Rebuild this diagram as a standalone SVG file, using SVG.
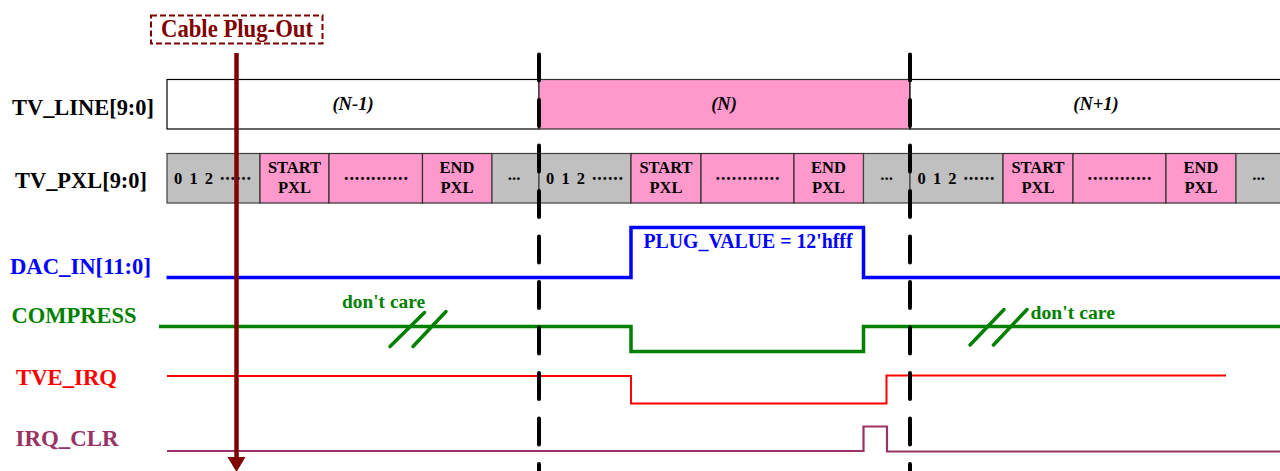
<svg xmlns="http://www.w3.org/2000/svg" width="1280" height="471" viewBox="0 0 1280 471">
<style>
  .lbl { font-family: "Liberation Serif", "Times New Roman", serif; font-weight: bold; font-size: 22.5px; }
  .cell { font-family: "Liberation Serif", "Times New Roman", serif; font-weight: bold; font-size: 16.5px; fill: #000; text-anchor: middle; }
  .dig { font-family: "Liberation Serif", "Times New Roman", serif; font-weight: bold; font-size: 16.5px; fill: #000; }
  .dots { font-family: "Liberation Serif", "Times New Roman", serif; font-weight: bold; font-size: 18px; fill: #000; }
  .ell { font-family: "Liberation Serif", "Times New Roman", serif; font-weight: bold; font-size: 17px; fill: #000; text-anchor: middle; }
  .line-txt { font-family: "Liberation Serif", "Times New Roman", serif; font-weight: bold; font-style: italic; font-size: 18.5px; fill: #000; text-anchor: middle; }
  .gray { fill: #C0C0C0; stroke: #404040; stroke-width: 1.2; }
  .pink { fill: #FF99CC; stroke: #303030; stroke-width: 1.2; }
  .wht { fill: #FFFFFF; stroke: #000; stroke-width: 1.2; }
  .sig { fill: none; stroke-linejoin: miter; }
  .mark { stroke: #000; stroke-width: 4; stroke-linecap: round; stroke-dasharray: 26 19.5; fill: none; }
</style>

<g id="tv_line">
  <text class="lbl" x="12" y="114.5" textLength="142" lengthAdjust="spacingAndGlyphs" fill="#000">TV_LINE[9:0]</text>
  <rect class="wht" x="167" y="79.5" width="372" height="49.5"/>
  <rect class="pink" x="539" y="79.5" width="371" height="49.5"/>
  <rect class="wht" x="910" y="79.5" width="372" height="49.5"/>
  <text class="line-txt" x="353" y="110">(N-1)</text>
  <text class="line-txt" x="724" y="110">(N)</text>
  <text class="line-txt" x="1096" y="110">(N+1)</text>
</g>

<g id="tv_pxl">
  <text class="lbl" x="15" y="188" textLength="132" lengthAdjust="spacingAndGlyphs" fill="#000">TV_PXL[9:0]</text>
  <!-- group 1 -->
  <rect class="gray" x="167" y="153.5" width="93" height="49.5"/>
  <rect class="pink" x="260" y="153.5" width="69" height="49.5"/>
  <rect class="pink" x="329" y="153.5" width="93.5" height="49.5"/>
  <rect class="pink" x="422.5" y="153.5" width="69.5" height="49.5"/>
  <rect class="gray" x="492" y="153.5" width="47" height="49.5"/>
  <text class="dig" x="174" y="184" textLength="39" lengthAdjust="spacing">0 1 2</text>
  <text class="dots" x="220" y="180" textLength="31" lengthAdjust="spacing">......</text>
  <text class="cell" x="294.5" y="173">START</text>
  <text class="cell" x="294.5" y="193">PXL</text>
  <text class="dots" x="344" y="180" textLength="64" lengthAdjust="spacing">............</text>
  <text class="cell" x="457" y="173">END</text>
  <text class="cell" x="457" y="193">PXL</text>
  <text class="ell" x="514" y="180">...</text>
  <!-- group 2 -->
  <rect class="gray" x="539" y="153.5" width="92" height="49.5"/>
  <rect class="pink" x="631" y="153.5" width="70" height="49.5"/>
  <rect class="pink" x="701" y="153.5" width="93" height="49.5"/>
  <rect class="pink" x="794" y="153.5" width="69.5" height="49.5"/>
  <rect class="gray" x="863.5" y="153.5" width="46.5" height="49.5"/>
  <text class="dig" x="546" y="184" textLength="39" lengthAdjust="spacing">0 1 2</text>
  <text class="dots" x="592" y="180" textLength="31" lengthAdjust="spacing">......</text>
  <text class="cell" x="666" y="173">START</text>
  <text class="cell" x="666" y="193">PXL</text>
  <text class="dots" x="715.5" y="180" textLength="64" lengthAdjust="spacing">............</text>
  <text class="cell" x="828.5" y="173">END</text>
  <text class="cell" x="828.5" y="193">PXL</text>
  <text class="ell" x="886.5" y="180">...</text>
  <!-- group 3 -->
  <rect class="gray" x="910" y="153.5" width="93" height="49.5"/>
  <rect class="pink" x="1003" y="153.5" width="70" height="49.5"/>
  <rect class="pink" x="1073" y="153.5" width="93" height="49.5"/>
  <rect class="pink" x="1166" y="153.5" width="70" height="49.5"/>
  <rect class="gray" x="1236" y="153.5" width="46" height="49.5"/>
  <text class="dig" x="917.5" y="184" textLength="39" lengthAdjust="spacing">0 1 2</text>
  <text class="dots" x="963.5" y="180" textLength="31" lengthAdjust="spacing">......</text>
  <text class="cell" x="1038" y="173">START</text>
  <text class="cell" x="1038" y="193">PXL</text>
  <text class="dots" x="1087.5" y="180" textLength="64" lengthAdjust="spacing">............</text>
  <text class="cell" x="1201" y="173">END</text>
  <text class="cell" x="1201" y="193">PXL</text>
  <text class="ell" x="1258.5" y="180">...</text>
</g>

<g id="dac_in">
  <text class="lbl" x="10" y="274" textLength="141" lengthAdjust="spacingAndGlyphs" fill="#0000FF">DAC_IN[11:0]</text>
  <polyline class="sig" stroke="#0000FF" stroke-width="3.5" points="166.5,277.5 631,277.5 631,227.5 863.5,227.5 863.5,277.5 1282,277.5"/>
  <text class="lbl" x="643.5" y="248" style="font-size:20.5px" textLength="209" lengthAdjust="spacingAndGlyphs" fill="#0000FF">PLUG_VALUE = 12'hfff</text>
</g>

<g id="compress">
  <text class="lbl" x="11.5" y="323" textLength="125" lengthAdjust="spacingAndGlyphs" fill="#008000">COMPRESS</text>
  <polyline class="sig" stroke="#008000" stroke-width="3.5" points="159,326.5 631,326.5 631,351.5 863.5,351.5 863.5,326.5 1282,326.5"/>
  <line x1="390" y1="346.5" x2="424.5" y2="312.5" stroke="#008000" stroke-width="3.5" stroke-linecap="round"/>
  <line x1="413" y1="346.5" x2="446" y2="311.5" stroke="#008000" stroke-width="3.5" stroke-linecap="round"/>
  <text class="lbl" x="342" y="308" style="font-size:18.5px" textLength="83" lengthAdjust="spacingAndGlyphs" fill="#008000">don't care</text>
  <line x1="970" y1="345" x2="1004" y2="309.5" stroke="#008000" stroke-width="3.5" stroke-linecap="round"/>
  <line x1="993.5" y1="345" x2="1027" y2="309.5" stroke="#008000" stroke-width="3.5" stroke-linecap="round"/>
  <text class="lbl" x="1030.5" y="319" style="font-size:18.5px" textLength="84.5" lengthAdjust="spacingAndGlyphs" fill="#008000">don't care</text>
</g>

<g id="tve_irq">
  <text class="lbl" x="16" y="385" textLength="101" lengthAdjust="spacingAndGlyphs" fill="#FF0000">TVE_IRQ</text>
  <polyline class="sig" stroke="#FF0000" stroke-width="2" points="167,376 631,376 631,403.5 886.5,403.5 886.5,375.5 1226,375.5"/>
</g>

<g id="irq_clr">
  <text class="lbl" x="15.5" y="445.5" textLength="103" lengthAdjust="spacingAndGlyphs" fill="#993366">IRQ_CLR</text>
  <polyline class="sig" stroke="#993366" stroke-width="2.2" points="167,451 863.5,451 863.5,426.5 887,426.5 887,451.5 1282,451.5"/>
</g>

<g id="connectors">
  <line class="mark" x1="539" y1="54.5" x2="539" y2="490"/>
  <line class="mark" x1="910" y1="54.5" x2="910" y2="490"/>
</g>

<g id="cable_plug_out">
  <rect x="151" y="15.5" width="171.5" height="28" fill="#FFFFFF" stroke="#800000" stroke-width="2" stroke-dasharray="6 3"/>
  <text x="237" y="37" text-anchor="middle" font-family="Liberation Serif, Times New Roman, serif" font-weight="bold" font-size="24.5" fill="#800000" textLength="152" lengthAdjust="spacingAndGlyphs">Cable Plug-Out</text>
  <line x1="236.5" y1="53" x2="236.5" y2="459" stroke="#800000" stroke-width="4.5"/>
  <polygon points="227.5,457 245.5,457 236.5,472" fill="#800000"/>
</g>
</svg>
